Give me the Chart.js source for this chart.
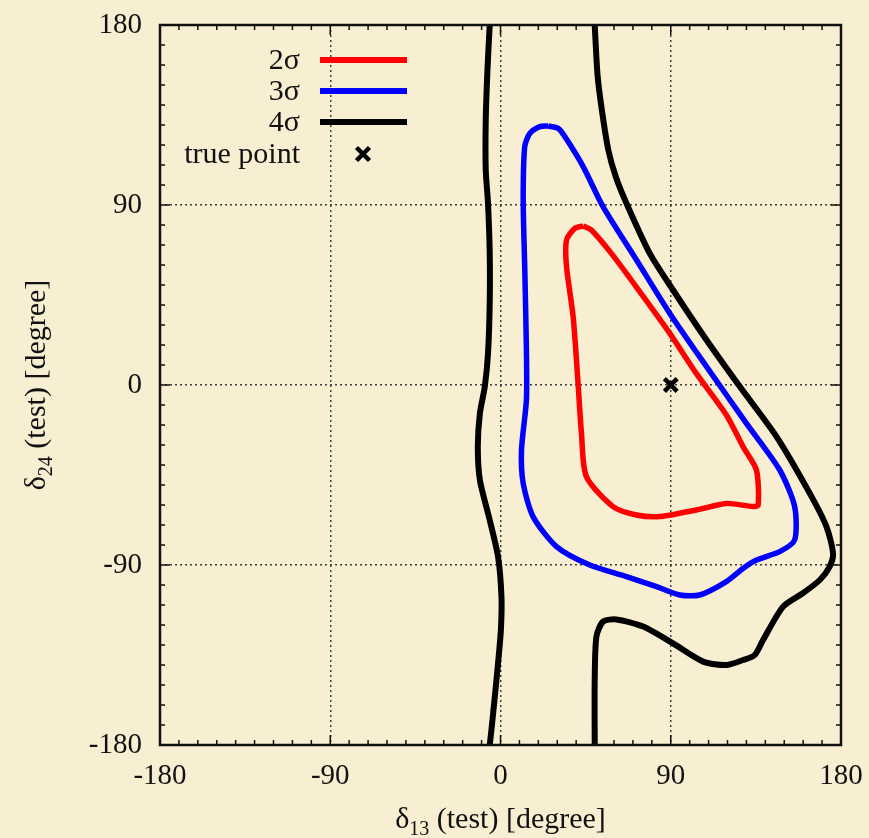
<!DOCTYPE html>
<html>
<head>
<meta charset="utf-8">
<title>delta13 vs delta24</title>
<script src="https://cdn.jsdelivr.net/npm/chart.js@4"></script>
<style>
  html, body { margin: 0; padding: 0; background: #f8eed1; }
  #grafico { display: block; }
</style>
</head>
<body>
<canvas id="grafico" width="869" height="838"></canvas>
<script>
// allowed regions in the (delta13, delta24) test plane, degrees
var contorno2s = [
  [43.7, 79.5], [48, 77.5], [58.6, 65.8], [73.6, 46.7], [89.5, 25.8], [103.5, 5.8],
  [119.4, -15], [128.2, -30.8], [135.3, -42.5], [136.2, -60], [133.5, -60.8], [119.4, -59.2],
  [103.5, -62.5], [84.2, -65.8], [71.9, -65], [59.5, -60.8], [45.4, -45.8], [42.8, -24.2],
  [41, 0.8], [38.4, 34.2], [34.9, 59.2], [34.9, 72.5], [39.3, 78.3], [43.7, 79.5]
];
var contorno3s = [
  [25.2, 129.5], [30.5, 128.3], [34, 124.2], [43.7, 109.2], [54.2, 89.2], [71.9, 62.5],
  [89.5, 35.8], [108.9, 9.2], [130, -19.2], [147.6, -42.5], [155.5, -60.8], [155.5, -77.5],
  [147.6, -83.3], [135.3, -87.5], [128.2, -91.7], [119.4, -98.3], [105.3, -105], [94.8, -105],
  [82.5, -100.8], [66.6, -95.8], [47.2, -90], [29.6, -80.8], [17.2, -65.8], [12, -49.2],
  [11.1, -32.5], [13.7, -7.5], [13.7, 17.5], [12.8, 59.2], [12, 92.5], [12.8, 119.2],
  [15.5, 125.8], [20.8, 129.2], [25.2, 129.5]
];
// 4 sigma comes out in two open pieces
var contorno4sIzq = [
  [-5.7, 180], [-6.9, 157.5], [-7.8, 132.5], [-7.8, 107.5], [-6.6, 90.8], [-5.7, 65.8],
  [-5.7, 40.8], [-6.6, 15.8], [-8.3, -0.8], [-10.9, -14.2], [-12, -30.8], [-10.9, -47.5],
  [-5.7, -67.5], [-1.3, -85.8], [0.5, -105.8], [0.2, -122.5], [-1.3, -139.2], [-3, -155.8],
  [-4.8, -172.5], [-5.7, -180]
];
var contorno4sDer = [
  [49.8, 180], [51.3, 155], [53.5, 138], [57, 117.5], [61, 104], [66.6, 90.8], [78.9, 65.8],
  [91.2, 47.5], [108.9, 22.5], [126.5, -0.8], [145.9, -25.8], [163.5, -54.2], [172.3, -70.8],
  [175.8, -84.2], [174, -90.8], [168.8, -97.5], [160, -104], [149.4, -110.8], [138.8, -127.5],
  [134.4, -135], [128.2, -137.5], [119.4, -140], [107.1, -138.3], [91.2, -129.2], [75.4, -120.8],
  [61.3, -117.2], [54.2, -118.3], [50.7, -125.8], [49.8, -147.5], [49.8, -180]
];
var puntoReal = [[90, 0]];

var etiquetas = ['2σ', '3σ', '4σ', 'true point'];
var marcasEje = [-180, -90, 0, 90, 180];

var fondo = '#f8eed1';
var fuente = 'Liberation Serif, Times New Roman, serif';

function aPuntos(arr) {
  return arr.map(function (p) { return { x: p[0], y: p[1] }; });
}

function colorRejilla(ctx) {
  var v = ctx.tick ? ctx.tick.value : null;
  if (marcasEje.indexOf(v) >= 0 && Math.abs(v) < 180) return '#404040';
  return 'rgba(0,0,0,0)';
}

function curva(label, arr, color, ancho) {
  return {
    label: label,
    data: aPuntos(arr),
    showLine: true,
    borderColor: color,
    borderWidth: ancho,
    pointRadius: 0,
    tension: 0.25,
    fill: false,
    clip: 0
  };
}

// background, frame with inward ticks, axis titles and the legend
var decorado = {
  id: 'decorado',
  beforeDraw: function (chart) {
    var ctx = chart.ctx;
    ctx.save();
    ctx.fillStyle = fondo;
    ctx.fillRect(0, 0, chart.width, chart.height);
    ctx.restore();
  },
  afterDraw: function (chart) {
    var ctx = chart.ctx;
    var a = chart.chartArea;
    var sx = chart.scales.x, sy = chart.scales.y;
    ctx.save();

    // ticks on all four sides, pointing inwards
    ctx.strokeStyle = '#111';
    ctx.lineWidth = 1.5;
    sx.ticks.forEach(function (t) {
      var px = sx.getPixelForValue(t.value);
      var len = marcasEje.indexOf(t.value) >= 0 ? 10 : 5;
      ctx.beginPath();
      ctx.moveTo(px, a.bottom); ctx.lineTo(px, a.bottom - len);
      ctx.moveTo(px, a.top); ctx.lineTo(px, a.top + len);
      ctx.stroke();
    });
    sy.ticks.forEach(function (t) {
      var py = sy.getPixelForValue(t.value);
      var len = marcasEje.indexOf(t.value) >= 0 ? 10 : 5;
      ctx.beginPath();
      ctx.moveTo(a.left, py); ctx.lineTo(a.left + len, py);
      ctx.moveTo(a.right, py); ctx.lineTo(a.right - len, py);
      ctx.stroke();
    });

    ctx.lineWidth = 2.5;
    ctx.strokeRect(a.left, a.top, a.right - a.left, a.bottom - a.top);

    // axis titles with subscripts
    ctx.fillStyle = '#111';
    ctx.textBaseline = 'alphabetic';
    var tituloX = function (sub, cx, base) {
      ctx.font = '30px ' + fuente;
      var w1 = ctx.measureText('δ').width;
      var w3 = ctx.measureText(' (test) [degree]').width;
      ctx.font = '20px ' + fuente;
      var w2 = ctx.measureText(sub).width;
      var x0 = cx - (w1 + w2 + w3) / 2;
      ctx.textAlign = 'left';
      ctx.font = '30px ' + fuente;
      ctx.fillText('δ', x0, base);
      ctx.font = '20px ' + fuente;
      ctx.fillText(sub, x0 + w1, base + 7);
      ctx.font = '30px ' + fuente;
      ctx.fillText(' (test) [degree]', x0 + w1 + w2, base);
    };
    tituloX('13', (a.left + a.right) / 2, 828);
    ctx.save();
    ctx.translate(45, (a.top + a.bottom) / 2);
    ctx.rotate(-Math.PI / 2);
    tituloX('24', 0, 0);
    ctx.restore();

    // legend: label on the left, line sample on the right
    var filas = [35, 66, 97, 129];
    var n = 0;
    ctx.font = '30px ' + fuente;
    chart.data.datasets.forEach(function (ds) {
      if (!ds.label) return;
      var y = a.top + filas[n++];
      ctx.textAlign = 'right';
      ctx.textBaseline = 'middle';
      ctx.fillStyle = '#111';
      ctx.fillText(ds.label, a.left + 140, y + 1);
      if (ds.showLine) {
        ctx.strokeStyle = ds.borderColor;
        ctx.lineWidth = 6;
        ctx.beginPath();
        ctx.moveTo(a.left + 160, y);
        ctx.lineTo(a.left + 247, y);
        ctx.stroke();
      } else {
        var cx = a.left + 203, r = 6.5;
        ctx.strokeStyle = ds.borderColor;
        ctx.lineWidth = ds.borderWidth;
        ctx.beginPath();
        ctx.moveTo(cx - r, y - r); ctx.lineTo(cx + r, y + r);
        ctx.moveTo(cx - r, y + r); ctx.lineTo(cx + r, y - r);
        ctx.stroke();
      }
    });
    ctx.restore();
  }
};

var ejeFuente = { family: fuente, size: 29 };

var grafico = new Chart(document.getElementById('grafico'), {
  type: 'scatter',
  data: {
    datasets: [
      curva(etiquetas[0], contorno2s, '#ff0000', 5.5),
      curva(etiquetas[1], contorno3s, '#0000ff', 5.5),
      curva(etiquetas[2], contorno4sIzq, '#000000', 6),
      curva('', contorno4sDer, '#000000', 6),
      {
        label: etiquetas[3],
        data: aPuntos(puntoReal),
        showLine: false,
        pointStyle: 'crossRot',
        pointRadius: 9,
        borderWidth: 4.5,
        borderColor: '#000000',
        backgroundColor: '#000000'
      }
    ]
  },
  options: {
    responsive: false,
    animation: false,
    devicePixelRatio: 1,
    layout: { padding: { top: 25, right: 28, left: 0, bottom: 0 } },
    plugins: {
      legend: { display: false },
      tooltip: { enabled: false }
    },
    scales: {
      x: {
        type: 'linear',
        min: -180,
        max: 180,
        // fixed band height, end labels may hang over the margins
        afterFit: function (s) { s.height = 93; s.paddingLeft = 0; s.paddingRight = 0; },
        ticks: {
          stepSize: 10,
          autoSkip: false,
          maxRotation: 0,
          padding: 14,
          color: '#111',
          font: ejeFuente,
          callback: function (v) { return marcasEje.indexOf(v) >= 0 ? String(v) : ''; }
        },
        grid: { drawTicks: false, lineWidth: 1.5, color: colorRejilla },
        border: { display: false, dash: [2, 3] }
      },
      y: {
        type: 'linear',
        min: -180,
        max: 180,
        afterFit: function (s) { s.width = 160; s.paddingTop = 0; s.paddingBottom = 0; },
        ticks: {
          stepSize: 10,
          autoSkip: false,
          padding: 18,
          color: '#111',
          font: ejeFuente,
          callback: function (v) { return marcasEje.indexOf(v) >= 0 ? String(v) : ''; }
        },
        grid: { drawTicks: false, lineWidth: 1.5, color: colorRejilla },
        border: { display: false, dash: [2, 3] }
      }
    }
  },
  plugins: [decorado]
});
</script>
</body>
</html>
